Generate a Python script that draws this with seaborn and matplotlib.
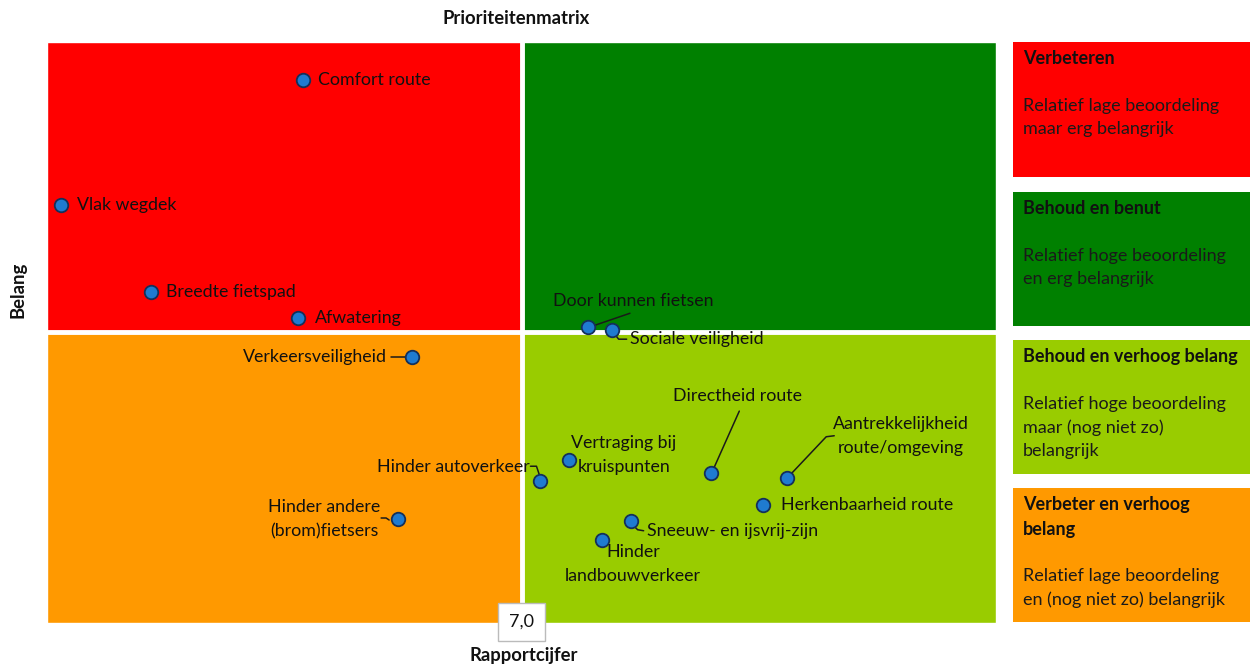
import matplotlib
matplotlib.use("Agg")
import matplotlib.pyplot as plt
import matplotlib.transforms as mtransforms
from matplotlib.patches import Rectangle
import seaborn as sns
import pandas as pd

# data
aspecten = ["Comfort route", "Vlak wegdek", "Breedte fietspad", "Afwatering",
            "Verkeersveiligheid", "Hinder andere\n(brom)fietsers",
            "Door kunnen fietsen", "Sociale veiligheid", "Hinder autoverkeer",
            "Vertraging bij\nkruispunten", "Directheid route",
            "Aantrekkelijkheid\nroute/omgeving", "Herkenbaarheid route",
            "Sneeuw- en ijsvrij-zijn", "Hinder\nlandbouwverkeer"]
rapportcijfer = [6.54, 6.03, 6.22, 6.53, 6.77, 6.74, 7.14, 7.19, 7.04,
                 7.10, 7.40, 7.56, 7.51, 7.23, 7.17]
belang = [0.935, 0.719, 0.570, 0.525, 0.458, 0.179, 0.509, 0.504, 0.244,
          0.281, 0.258, 0.250, 0.203, 0.176, 0.143]
grens_x = 7.0
grens_y = 0.5

kwadranten = ["Verbeteren", "Behoud en benut", "Behoud en verhoog belang",
              "Verbeter en verhoog\nbelang"]
kwadrant_tekst = ["Relatief lage beoordeling\nmaar erg belangrijk",
                  "Relatief hoge beoordeling\nen erg belangrijk",
                  "Relatief hoge beoordeling\nmaar (nog niet zo)\nbelangrijk",
                  "Relatief lage beoordeling\nen (nog niet zo) belangrijk"]
kleuren = ["#ff0000", "#008000", "#99cc00", "#ff9900"]

df = pd.DataFrame({"aspect": aspecten, "cijfer": rapportcijfer, "belang": belang})

# label placement in pixels: (dx, dy, ha, leader polyline)
plaatsing = {
    "Comfort route": (15, 0, "left", None),
    "Vlak wegdek": (16, 0, "left", None),
    "Breedte fietspad": (15, 0, "left", None),
    "Afwatering": (16, 0, "left", None),
    "Verkeersveiligheid": (-25, 0, "right", [(-21, 0), (-7, 0)]),
    "Hinder andere\n(brom)fietsers": (-74, 0, "center", [(-17, 1), (-12, 1), (-9, -1)]),
    "Door kunnen fietsen": (45, 26, "center", [(4, 1), (42, 14)]),
    "Sociale veiligheid": (18, -9, "left", [(3, -4), (7, -9), (15, -9)]),
    "Hinder autoverkeer": (-11, 14, "right", [(-10, 15), (-4, 15), (-1, 6)]),
    "Vertraging bij\nkruispunten": (55, 5, "center", None),
    "Directheid route": (26, 77, "center", [(3, 6), (28, 62)]),
    "Aantrekkelijkheid\nroute/omgeving": (114, 42, "center", [(4, 4), (39, 41), (47, 42)]),
    "Herkenbaarheid route": (18, 0, "left", None),
    "Sneeuw- en ijsvrij-zijn": (16, -10, "left", [(3, -5), (7, -9), (13, -10)]),
    "Hinder\nlandbouwverkeer": (31, -24, "center", None),
}

sns.set_style("white")
plt.rcParams["font.family"] = ["Lato", "DejaVu Sans"]

fig = plt.figure(figsize=(12.5, 6.66), dpi=100)

# right-hand explanation boxes, in figure pixels
lax = fig.add_axes([0, 0, 1, 1])
lax.set_xlim(0, 1250)
lax.set_ylim(666, 0)
lax.axis("off")
vakken = [(42, 177), (192, 326), (340, 474), (488, 622)]
for (top, bot), kleur, titel, tekst in zip(vakken, kleuren, kwadranten, kwadrant_tekst):
    lax.add_patch(Rectangle((1013, top), 237, bot - top, facecolor=kleur, edgecolor="none"))
    eerste = top + 17
    lax.text(1023, eerste - 9, titel, ha="left", va="top", fontsize=13,
             fontweight="bold", color="#111111", linespacing=1.55)
    nregels = titel.count("\n") + 1
    lax.text(1023, eerste + 24 * nregels + 24 - 9, tekst, ha="left", va="top",
             fontsize=13, color="#1a1a1a", linespacing=1.55)

ax = fig.add_axes([47 / 1250, 43 / 666, 949 / 1250, 581 / 666])
ax.set_xlim(6.0, 8.0)
ax.set_ylim(0, 1)
x0, x1 = ax.get_xlim()
y0, y1 = ax.get_ylim()
ax.add_patch(Rectangle((x0, grens_y), grens_x - x0, y1 - grens_y, facecolor=kleuren[0], zorder=0))
ax.add_patch(Rectangle((grens_x, grens_y), x1 - grens_x, y1 - grens_y, facecolor=kleuren[1], zorder=0))
ax.add_patch(Rectangle((grens_x, y0), x1 - grens_x, grens_y - y0, facecolor=kleuren[2], zorder=0))
ax.add_patch(Rectangle((x0, y0), grens_x - x0, grens_y - y0, facecolor=kleuren[3], zorder=0))
ax.axvline(grens_x, color="white", lw=3.5, zorder=1)
ax.axhline(grens_y, color="white", lw=3.5, zorder=1)

sns.scatterplot(data=df, x="cijfer", y="belang", ax=ax, s=95, color="#1f7bd0",
                edgecolor="#14305a", linewidth=1.3, zorder=4, legend=False)

for _, r in df.iterrows():
    dx, dy, ha, lijn = plaatsing[r["aspect"]]
    ax.annotate(r["aspect"], xy=(r["cijfer"], r["belang"]), xytext=(dx, dy),
                textcoords="offset pixels", ha=ha, va="center", fontsize=12.8,
                color="#111111", linespacing=1.6, multialignment="center", zorder=5)
    if lijn:
        tr = fig.dpi_scale_trans + mtransforms.ScaledTranslation(r["cijfer"], r["belang"], ax.transData)
        ax.plot([p[0] / 100 for p in lijn], [p[1] / 100 for p in lijn],
                transform=tr, color="#1a1a1a", lw=1.1, zorder=3, clip_on=False)

ax.text(grens_x, y0 + 0.002, "7,0", ha="center", va="center", fontsize=13, color="#111111",
        zorder=6, clip_on=False,
        bbox=dict(boxstyle="square,pad=0.6", facecolor="white", edgecolor="#bbbbbb", lw=1))

ax.set_xticks([])
ax.set_yticks([])
for s in ax.spines.values():
    s.set_visible(False)
ax.set_xlabel("")
ax.set_ylabel("")

fig.text(516 / 1250, 1 - 18 / 666, "Prioriteitenmatrix", ha="center", va="center",
         fontsize=13.3, fontweight="bold", color="#111111")
fig.text(524 / 1250, 1 - 655 / 666, "Rapportcijfer", ha="center", va="center",
         fontsize=13.3, fontweight="bold", color="#111111")
fig.text(18 / 1250, 1 - 290 / 666, "Belang", ha="center", va="center", rotation=90,
         fontsize=13.3, fontweight="bold", color="#111111")

fig.savefig("out.png", dpi=100)
